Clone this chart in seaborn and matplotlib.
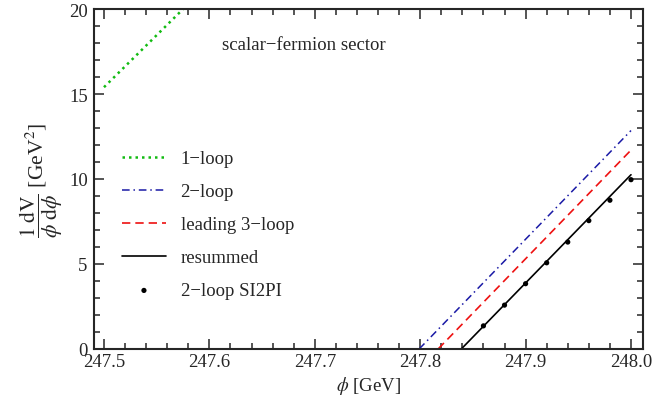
import pandas as pd
import seaborn as sns
import matplotlib.pyplot as plt
from matplotlib.ticker import MultipleLocator

# values
one_loop_x = [247.5, 247.58]
one_loop_y = [15.4, 20.3]
two_loop_x = [247.799, 248.0]
two_loop_y = [0.0, 12.85]
lead3_x = [247.817, 248.0]
lead3_y = [0.0, 11.7]
resum_x = [247.839, 248.0]
resum_y = [0.0, 10.25]
si2pi_x = [247.86, 247.88, 247.90, 247.92, 247.94, 247.96, 247.98, 248.00]
si2pi_y = [1.36, 2.58, 3.84, 5.07, 6.29, 7.55, 8.75, 9.96]

sns.set_style("ticks")
plt.rcParams["font.family"] = ["Liberation Serif", "DejaVu Serif"]
plt.rcParams["mathtext.fontset"] = "stix"
plt.rcParams["font.size"] = 13.5

fig = plt.figure(figsize=(6.54, 4.02), dpi=100)
ax = fig.add_axes([0.1437, 0.1294, 0.8395, 0.8457])

series = [
    ("1\u2212loop", one_loop_x, one_loop_y, "#11bb11", (0, (1, 1.6)), 1.8),
    ("2\u2212loop", two_loop_x, two_loop_y, "#1a1aa6", (0, (5, 2.5, 1, 2.5)), 1.1),
    ("leading 3\u2212loop", lead3_x, lead3_y, "#ee1111", (0, (5, 3)), 1.2),
    ("resummed", resum_x, resum_y, "black", "-", 1.2),
]
for name, xs, ys, col, ls, lw in series:
    d = pd.DataFrame({"x": xs, "y": ys})
    sns.lineplot(data=d, x="x", y="y", ax=ax, color=col, linestyle=ls,
                 linewidth=lw, label=name)

dots = pd.DataFrame({"x": si2pi_x, "y": si2pi_y})
sns.scatterplot(data=dots, x="x", y="y", ax=ax, color="black", s=14,
                edgecolor="none", label="2\u2212loop SI2PI")

ax.set_xlim(247.4905, 248.0114)
ax.set_ylim(0, 20)
ax.xaxis.set_major_locator(MultipleLocator(0.1))
ax.xaxis.set_minor_locator(MultipleLocator(0.02))
ax.yaxis.set_major_locator(MultipleLocator(5))
ax.yaxis.set_minor_locator(MultipleLocator(1))
ax.xaxis.set_major_formatter(plt.FormatStrFormatter("%.1f"))
ax.tick_params(which="both", direction="in", top=True, right=True,
               width=1.1, labelsize=13.5)
ax.tick_params(axis="x", pad=3)
ax.tick_params(axis="y", pad=4.5)
ax.tick_params(which="major", length=7)
ax.tick_params(which="minor", length=4)
for sp in ax.spines.values():
    sp.set_linewidth(1.5)

ax.set_xlabel(r"$\phi$ [GeV]", fontsize=13.5, labelpad=3)
ax.set_ylabel(r"$\dfrac{1\ \mathrm{dV}}{\phi\ \mathrm{d}\phi}$ [GeV$^2$]",
              fontsize=15.5, labelpad=3)

ax.text(0.233, 0.897, "scalar\u2212fermion sector", transform=ax.transAxes,
        ha="left", va="center", fontsize=13.5)

ax.legend(loc="upper left", bbox_to_anchor=(0.021, 0.635), frameon=False,
          handlelength=2.3, handletextpad=0.8, labelspacing=0.85,
          fontsize=13.5)

fig.savefig("out.png", dpi=100)
